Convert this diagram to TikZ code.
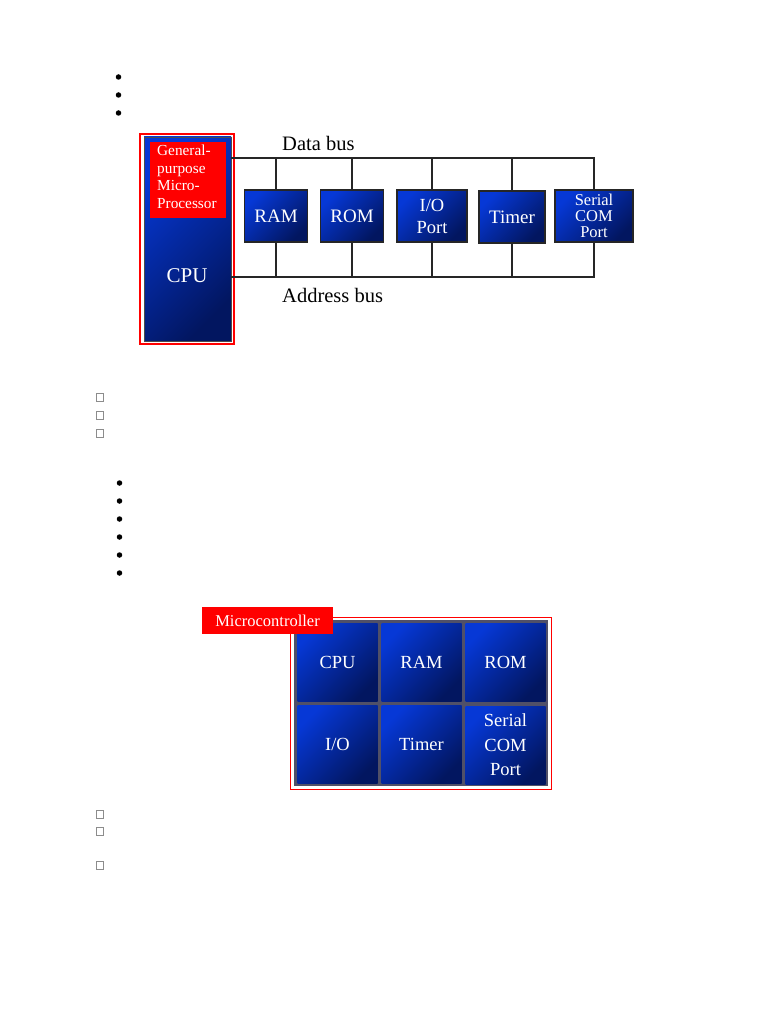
\documentclass[tikz,border=0pt]{standalone}
\usepackage{fontspec}
\setmainfont{Liberation Serif}
\definecolor{bhi}{HTML}{0638D6}
\definecolor{blo}{HTML}{021660}
\definecolor{frameg}{HTML}{505068}
\begin{document}
\begin{tikzpicture}[x=1pt,y=-1pt,
  bluebox/.style={rectangle, inner sep=0pt, top color=bhi, bottom color=blo, shading angle=45, text=white, align=center},
  unit/.style={bluebox, draw=black!85, line width=1.2pt},
  cell/.style={bluebox, minimum width=80, minimum height=78, font=\fontsize{18.5}{20}\selectfont},
  redlab/.style={rectangle, fill=red, inner sep=0pt, text=white},
  bus/.style={draw=black!85, line width=2pt},
  dot/.style={circle, fill=black, inner sep=0pt, minimum size=5.5},
  chk/.style={rectangle, draw=black!45, line width=0.8pt, inner sep=0pt, minimum width=7, minimum height=8}
]
\useasboundingbox (0,0) rectangle (768,1024);
% bullets top
\node[dot] (b1) at (118.5,77) {};
\node[dot] (b2) at (118.5,95) {};
\node[dot] (b3) at (118.5,113) {};
% CPU
\node[rectangle, draw=red, line width=1.2pt, fill=white, minimum width=94, minimum height=210, inner sep=0] (cpuframe) at (187,239) {};
\node[bluebox, draw=black!70, line width=0.6pt, minimum width=87, minimum height=204] (cpu) at (187.5,239) {};
\node[redlab, minimum width=76, minimum height=76] (gp) at (188,180) {};
\node[anchor=north west, inner sep=0pt, text=white, align=left, font=\fontsize{15.3}{17.4}\selectfont] (gpt) at (157,145) {General-\\purpose\\Micro-\\Processor};
\node[text=white, font=\fontsize{21}{24}\selectfont] (cput) at (187,276) {CPU};
% units
\node[unit, minimum width=63, minimum height=52, font=\fontsize{19}{22}\selectfont] (ram) at (276,216) {RAM};
\node[unit, minimum width=63, minimum height=52, font=\fontsize{19}{22}\selectfont] (rom) at (352,216) {ROM};
\node[unit, minimum width=70, minimum height=52, font=\fontsize{18.5}{22}\selectfont] (io) at (432,216) {I/O\\Port};
\node[unit, minimum width=66, minimum height=52, font=\fontsize{19}{22}\selectfont] (tim) at (512,217) {Timer};
\node[unit, minimum width=78, minimum height=52, font=\fontsize{16.5}{16}\selectfont] (ser) at (594,216) {Serial\\COM\\Port};
% buses
\coordinate (yd) at (0,158);
\coordinate (ya) at (0,277);
\draw[bus] (cpu.east |- yd) -- (ser.north |- yd) -- (ser.north);
\draw[bus] (cpu.east |- ya) -- (ser.south |- ya) -- (ser.south);
\foreach \n in {ram,rom,io,tim} {
  \draw[bus] (\n.north) -- (\n.north |- yd);
  \draw[bus] (\n.south) -- (\n.south |- ya);
}
\node[anchor=base west, inner sep=0pt, font=\fontsize{20.5}{24}\selectfont] (dbl) at (282,151) {Data bus};
\node[anchor=base west, inner sep=0pt, font=\fontsize{20.5}{24}\selectfont] (abl) at (282,302) {Address bus};
% checkboxes
\node[chk] (c1) at (99.5,397) {};
\node[chk] (c2) at (99.5,415) {};
\node[chk] (c3) at (99.5,433) {};
% bullets middle
\node[dot] (m1) at (119.5,483) {};
\node[dot] (m2) at (119.5,501) {};
\node[dot] (m3) at (119.5,519) {};
\node[dot] (m4) at (119.5,537) {};
\node[dot] (m5) at (119.5,555) {};
\node[dot] (m6) at (119.5,573) {};
% microcontroller
\node[rectangle, draw=red, line width=1pt, fill=white, minimum width=261, minimum height=172, inner sep=0] (mcframe) at (420.5,703) {};
\node[rectangle, fill=frameg, minimum width=254, minimum height=166, inner sep=0] (mcgrey) at (421,703) {};
\node[cell] (mcpu) at (337.5,662) {CPU};
\node[cell] (mram) at (421.5,662) {RAM};
\node[cell] (mrom) at (505.5,662) {ROM};
\node[cell] (mio) at (337.5,744) {I/O};
\node[cell] (mtim) at (421.5,744) {Timer};
\node[cell, font=\fontsize{18.5}{24.5}\selectfont] (mser) at (505.5,745) {Serial\\COM\\Port};
\node[redlab, minimum width=131, minimum height=27, font=\fontsize{16.5}{20}\selectfont] (mclab) at (267.5,620.5) {Microcontroller};
% checkboxes bottom
\node[chk] (c4) at (99.5,814) {};
\node[chk] (c5) at (99.5,831) {};
\node[chk] (c6) at (99.5,865) {};
\end{tikzpicture}
\end{document}
